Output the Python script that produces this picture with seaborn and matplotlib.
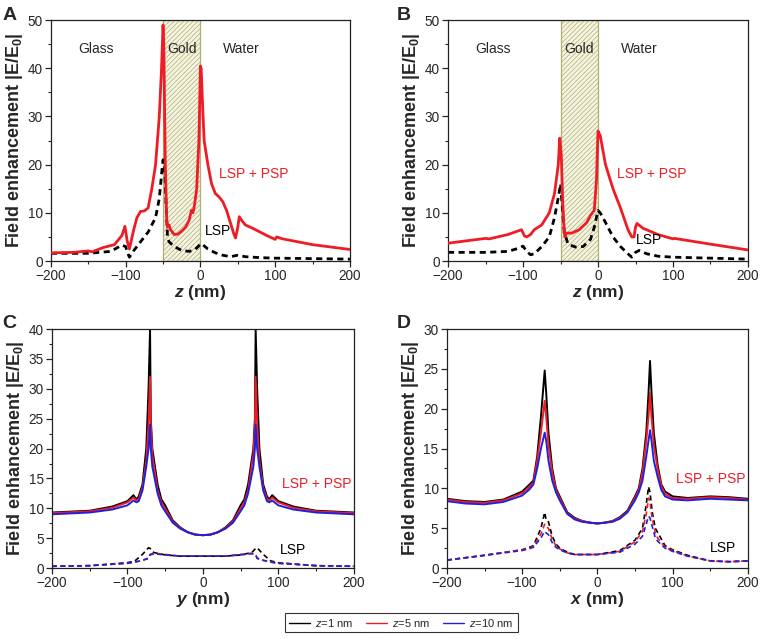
import matplotlib
matplotlib.use("Agg")
import matplotlib.pyplot as plt
from matplotlib.ticker import MultipleLocator
import seaborn as sns
import pandas as pd

# ---------------- data ----------------
# Panel A (z scan)
a_red_z = [-200, -170, -150, -145, -130, -115, -105, -101, -98, -95, -90, -85, -80, -75, -70, -65, -60, -55, -52, -50, -49, -47, -45, -44, -42, -40, -35, -30, -25, -20, -15, -12, -10, -8, -5, -2, 0, 1, 3, 5, 10, 15, 20, 25, 30, 35, 40, 45, 47, 50, 52, 55, 60, 70, 80, 90, 100, 102, 110, 130, 150, 175, 200]
a_red_v = [1.7, 1.8, 2.1, 1.9, 2.8, 3.4, 5.3, 7.2, 4.2, 2.5, 6.0, 9.0, 10.3, 10.4, 11.0, 15.0, 20.0, 30.0, 40.0, 49.0, 45.0, 20.0, 8.0, 7.0, 7.5, 6.5, 5.5, 5.6, 6.2, 7.0, 8.5, 10.5, 10.0, 11.5, 15.0, 25.0, 40.5, 40.0, 32.0, 25.0, 20.0, 16.0, 14.0, 13.3, 12.3, 10.5, 8.0, 5.5, 4.8, 7.0, 9.2, 8.5, 7.5, 6.8, 6.0, 5.2, 4.5, 5.0, 4.6, 4.0, 3.4, 2.9, 2.4]
a_blk_z = [-200, -150, -120, -105, -100, -97, -95, -90, -80, -70, -60, -55, -52, -50, -48, -46, -44, -42, -35, -25, -15, -8, -3, 0, 3, 10, 20, 30, 40, 50, 60, 80, 100, 150, 200]
a_blk_v = [1.6, 1.6, 2.0, 3.3, 3.0, 1.5, 0.8, 2.0, 4.0, 6.0, 9.0, 13.0, 18.0, 21.0, 20.0, 12.0, 5.0, 4.0, 3.0, 2.2, 2.0, 2.3, 3.0, 3.6, 3.4, 2.5, 1.7, 1.2, 0.9, 1.2, 0.9, 0.7, 0.6, 0.5, 0.4]

# Panel B (z scan)
b_red_z = [-200, -150, -145, -120, -102, -98, -95, -90, -85, -75, -65, -58, -53, -51, -49, -47, -45, -44, -42, -35, -25, -15, -10, -5, -2, 0, 3, 10, 20, 30, 40, 45, 48, 50, 52, 60, 80, 100, 102, 150, 200]
b_red_v = [3.7, 4.7, 4.6, 5.5, 6.5, 5.2, 5.0, 5.5, 6.5, 7.5, 10.0, 14.0, 20.0, 25.5, 22.0, 12.0, 6.0, 5.0, 5.8, 5.8, 6.5, 8.0, 9.5, 10.5, 17.0, 27.0, 26.0, 20.0, 15.0, 11.0, 6.5, 5.0, 5.0, 7.0, 7.8, 6.8, 5.5, 4.6, 4.7, 3.5, 2.3]
b_blk_z = [-200, -150, -120, -105, -100, -95, -90, -85, -75, -65, -58, -52, -50, -48, -45, -40, -30, -20, -10, -5, 0, 3, 10, 20, 30, 40, 45, 50, 55, 65, 80, 100, 150, 200]
b_blk_v = [1.8, 1.8, 2.0, 2.7, 3.1, 2.0, 1.3, 1.5, 3.0, 5.0, 9.0, 14.0, 16.0, 12.0, 6.0, 3.5, 2.9, 3.0, 4.5, 7.0, 10.5, 10.0, 8.0, 5.0, 3.0, 1.5, 0.8, 1.8, 2.2, 1.5, 1.0, 0.8, 0.6, 0.4]

# Panel C (y scan)
c_y = [-200, -150, -120, -100, -92, -88, -85, -80, -75, -72, -70, -69, -67, -60, -55, -50, -40, -30, -20, -10, 0, 10, 20, 30, 40, 50, 55, 60, 67, 69, 70, 72, 75, 80, 85, 88, 92, 100, 120, 150, 200]
c_z1 = [9.3, 9.6, 10.3, 11.2, 12.2, 11.5, 12.0, 14.0, 20.0, 30.0, 40.0, 25.0, 20.0, 14.0, 11.5, 10.5, 8.0, 6.8, 6.0, 5.6, 5.5, 5.6, 6.0, 6.8, 8.0, 10.5, 11.5, 14.0, 20.0, 25.0, 40.0, 30.0, 20.0, 14.0, 12.0, 11.5, 12.2, 11.2, 10.3, 9.6, 9.3]
c_z5 = [9.2, 9.5, 10.1, 11.0, 11.8, 11.3, 11.6, 13.5, 18.0, 24.0, 32.0, 24.0, 19.0, 13.0, 11.0, 10.0, 7.8, 6.7, 6.0, 5.6, 5.5, 5.6, 6.0, 6.7, 7.8, 10.0, 11.0, 13.0, 19.0, 24.0, 32.0, 24.0, 18.0, 13.5, 11.6, 11.3, 11.8, 11.0, 10.1, 9.5, 9.2]
c_z10 = [9.0, 9.3, 9.8, 10.5, 11.3, 11.0, 11.2, 13.0, 17.0, 20.0, 24.0, 20.0, 17.0, 12.5, 10.5, 9.5, 7.6, 6.6, 6.0, 5.6, 5.5, 5.6, 6.0, 6.6, 7.6, 9.5, 10.5, 12.5, 17.0, 20.0, 24.0, 20.0, 17.0, 13.0, 11.2, 11.0, 11.3, 10.5, 9.8, 9.3, 9.0]
c_lsp_y = [-200, -150, -100, -90, -80, -72, -70, -65, -50, -30, 0, 30, 50, 65, 70, 72, 80, 90, 100, 150, 200]
c_lsp_z1 = [0.3, 0.4, 0.9, 1.2, 2.3, 3.4, 3.3, 2.6, 2.2, 2.0, 2.0, 2.0, 2.2, 2.6, 3.3, 3.4, 2.3, 1.2, 0.9, 0.4, 0.3]
c_lsp_z5 = [0.3, 0.4, 0.8, 1.0, 1.3, 1.7, 2.3, 2.5, 2.3, 2.0, 2.0, 2.0, 2.3, 2.5, 2.3, 1.7, 1.3, 1.0, 0.8, 0.4, 0.3]
c_lsp_z10 = [0.3, 0.4, 0.8, 1.0, 1.3, 1.6, 2.2, 2.4, 2.2, 2.0, 2.0, 2.0, 2.2, 2.4, 2.2, 1.6, 1.3, 1.0, 0.8, 0.4, 0.3]

# Panel D (x scan)
d_x = [-200, -175, -150, -125, -100, -90, -85, -80, -75, -70, -68, -65, -60, -55, -50, -40, -30, -20, -10, 0, 10, 20, 30, 40, 50, 55, 60, 65, 68, 70, 72, 75, 80, 85, 90, 100, 120, 150, 175, 200]
d_z1 = [8.7, 8.4, 8.3, 8.6, 9.6, 10.5, 11.0, 14.0, 19.0, 24.8, 22.0, 17.0, 12.5, 10.0, 9.0, 7.0, 6.3, 5.9, 5.7, 5.6, 5.7, 5.9, 6.4, 7.2, 9.0, 10.0, 12.5, 17.0, 22.0, 26.0, 22.0, 17.0, 13.0, 10.5, 9.6, 9.0, 8.8, 9.0, 8.9, 8.7]
d_z5 = [8.6, 8.3, 8.2, 8.5, 9.4, 10.2, 10.8, 13.5, 17.0, 21.0, 19.0, 15.5, 12.0, 9.8, 8.8, 6.9, 6.2, 5.9, 5.7, 5.6, 5.7, 5.9, 6.3, 7.1, 8.8, 9.8, 12.0, 16.0, 19.0, 22.0, 19.0, 15.5, 12.5, 10.3, 9.3, 8.8, 8.7, 8.9, 8.8, 8.6]
d_z10 = [8.4, 8.1, 8.0, 8.3, 9.1, 9.9, 10.5, 12.5, 15.0, 17.0, 16.0, 13.5, 11.0, 9.5, 8.5, 6.8, 6.1, 5.8, 5.7, 5.6, 5.7, 5.8, 6.2, 7.0, 8.5, 9.5, 11.0, 14.0, 16.0, 17.3, 16.0, 13.5, 11.5, 9.8, 9.0, 8.6, 8.5, 8.7, 8.6, 8.5]
d_lsp_x = [-200, -150, -100, -85, -75, -70, -68, -65, -60, -55, -50, -40, -30, 0, 30, 50, 60, 65, 68, 70, 73, 77, 80, 90, 100, 120, 150, 175, 200]
d_lsp_z1 = [1.0, 1.6, 2.3, 2.8, 5.0, 7.0, 6.0, 5.8, 4.0, 3.0, 2.5, 2.0, 1.7, 1.7, 2.2, 3.5, 5.0, 8.0, 10.2, 9.5, 7.0, 5.0, 4.5, 2.8, 2.3, 1.6, 0.9, 0.8, 0.9]
d_lsp_z5 = [1.0, 1.6, 2.3, 2.7, 4.3, 5.5, 5.2, 5.0, 3.6, 2.8, 2.4, 1.9, 1.7, 1.7, 2.1, 3.3, 4.6, 6.8, 8.8, 8.2, 6.2, 4.4, 3.8, 2.6, 2.2, 1.5, 0.9, 0.8, 0.9]
d_lsp_z10 = [1.0, 1.6, 2.2, 2.6, 3.8, 4.6, 4.4, 4.2, 3.2, 2.6, 2.3, 1.9, 1.7, 1.7, 2.0, 3.0, 4.0, 5.5, 6.5, 6.3, 5.2, 3.8, 3.4, 2.5, 2.1, 1.5, 0.9, 0.8, 0.9]

legend_labels = ["$z$=1 nm", "$z$=5 nm", "$z$=10 nm"]
series_colors = ["#000000", "#ee1c25", "#2020e0"]

# ---------------- style ----------------
sns.set_style("ticks")
plt.rcParams["font.family"] = ["Liberation Sans", "DejaVu Sans"]
plt.rcParams["mathtext.fontset"] = "custom"
plt.rcParams["mathtext.rm"] = "Liberation Sans"
plt.rcParams["mathtext.it"] = "Liberation Sans:italic"
plt.rcParams["mathtext.bf"] = "Liberation Sans:bold"
plt.rcParams["mathtext.bfit"] = "Liberation Sans:bold:italic"
plt.rcParams["hatch.linewidth"] = 0.5
plt.rcParams["axes.linewidth"] = 0.9

fig = plt.figure(figsize=(7.6, 6.39), dpi=100)
axA = fig.add_axes([0.067, 0.5915, 0.3934, 0.377])
axB = fig.add_axes([0.5895, 0.5915, 0.3947, 0.377])
axC = fig.add_axes([0.0684, 0.111, 0.397, 0.374])
axD = fig.add_axes([0.588, 0.111, 0.396, 0.374])

ylab = "Field enhancement |E/E$_\\mathbf{0}$|"


def style_axes(ax, ymax, ymajor, xvar):
    ax.set_xlim(-200, 200)
    ax.set_ylim(0, ymax)
    ax.xaxis.set_major_locator(MultipleLocator(100))
    ax.xaxis.set_minor_locator(MultipleLocator(50))
    ax.yaxis.set_major_locator(MultipleLocator(ymajor))
    ax.yaxis.set_minor_locator(MultipleLocator(ymajor / 2))
    ax.tick_params(which="major", direction="out", length=4, width=0.9, labelsize=9.8, pad=2)
    ax.tick_params(which="minor", direction="out", length=2.5, width=0.8)
    for s in ax.spines.values():
        s.set_visible(True)
        s.set_color("#222222")
    ax.set_xlabel("$\\mathbfit{%s}$ (nm)" % xvar, fontsize=12.5, fontweight="bold", labelpad=0)
    ax.set_ylabel(ylab, fontsize=13, fontweight="bold", labelpad=2)
    ax.set_xticklabels([("\u2212%d" % -t) if t < 0 else "%d" % t for t in ax.get_xticks()])


# ---- panels A, B ----
for ax, rz, rv, bz, bv in [(axA, a_red_z, a_red_v, a_blk_z, a_blk_v),
                           (axB, b_red_z, b_red_v, b_blk_z, b_blk_v)]:
    ax.axvspan(-50, 0, facecolor="#f5f3e2", edgecolor="#b0b070", hatch="///////", lw=0.9, zorder=0)
    sns.lineplot(x=rz, y=rv, ax=ax, color="#ee1c25", lw=2.0, zorder=3, estimator=None, sort=False)
    sns.lineplot(x=bz, y=bv, ax=ax, color="black", lw=2.0, ls=(0, (2.2, 1.6)), zorder=2, estimator=None, sort=False)
    style_axes(ax, 50, 10, "z")
    ax.text(-140, 44, "Glass", ha="center", va="center", fontsize=10)
    ax.text(-25, 44, "Gold", ha="center", va="center", fontsize=10)
    ax.text(55, 44, "Water", ha="center", va="center", fontsize=10)

axA.text(25, 18, "LSP + PSP", color="#ee1c25", fontsize=10, va="center")
axA.text(6, 6.2, "LSP", color="black", fontsize=10, va="center")
axB.text(25, 18, "LSP + PSP", color="#ee1c25", fontsize=10, va="center")
axB.text(50, 4.3, "LSP", color="black", fontsize=10, va="center")

# ---- panels C, D ----
dfC = pd.concat([pd.DataFrame({"pos": c_y, "val": v, "series": lab})
                 for v, lab in zip([c_z1, c_z5, c_z10], legend_labels)])
dfCl = pd.concat([pd.DataFrame({"pos": c_lsp_y, "val": v, "series": lab})
                  for v, lab in zip([c_lsp_z1, c_lsp_z5, c_lsp_z10], legend_labels)])
dfD = pd.concat([pd.DataFrame({"pos": d_x, "val": v, "series": lab})
                 for v, lab in zip([d_z1, d_z5, d_z10], legend_labels)])
dfDl = pd.concat([pd.DataFrame({"pos": d_lsp_x, "val": v, "series": lab})
                  for v, lab in zip([d_lsp_z1, d_lsp_z5, d_lsp_z10], legend_labels)])
pal = dict(zip(legend_labels, series_colors))

for ax, df, dfl, ymax, ymaj, var in [(axC, dfC, dfCl, 40, 5, "y"), (axD, dfD, dfDl, 30, 5, "x")]:
    sns.lineplot(data=df, x="pos", y="val", hue="series", palette=pal, ax=ax, lw=1.4,
                 estimator=None, sort=False, legend=False)
    sns.lineplot(data=dfl, x="pos", y="val", hue="series", palette=pal, ax=ax, lw=1.2,
                 ls=(0, (3, 2)), estimator=None, sort=False, legend=False)
    style_axes(ax, ymax, ymaj, var)

axC.text(105, 14, "LSP + PSP", color="#ee1c25", fontsize=10, va="center")
axC.text(102, 3.1, "LSP", color="black", fontsize=10, va="center")
axD.text(105, 11.2, "LSP + PSP", color="#ee1c25", fontsize=10, va="center")
axD.text(150, 2.5, "LSP", color="black", fontsize=10, va="center")

# panel letters
for lbl, (x, y) in zip("ABCD", [(0.003, 0.976), (0.522, 0.976), (0.003, 0.494), (0.522, 0.494)]):
    fig.text(x, y, lbl, fontsize=14, fontweight="bold", va="center", ha="left")

# legend
handles = [plt.Line2D([], [], color=c, lw=1.0) for c in series_colors]
leg = fig.legend(handles, legend_labels, loc="center", bbox_to_anchor=(0.528, 0.0258), ncol=3,
                 frameon=True, fancybox=False, edgecolor="black", fontsize=8,
                 handlelength=1.9, columnspacing=1.1, handletextpad=0.5,
                 borderpad=0.35)
leg.get_frame().set_linewidth(0.8)

fig.savefig("out.png", dpi=100)
